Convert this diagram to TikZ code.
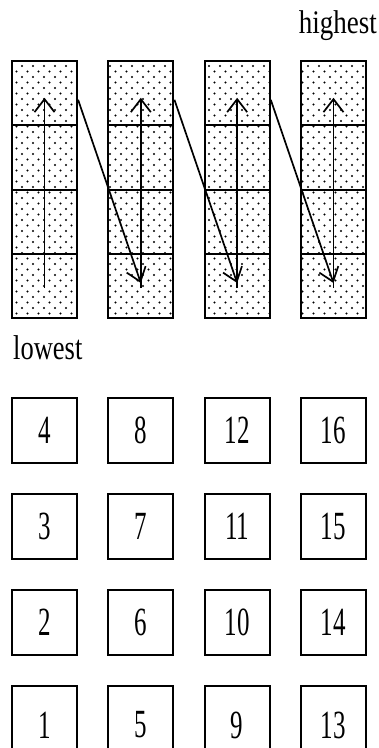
\documentclass[tikz,border=0pt]{standalone}
\usepackage{fontspec}
\setmainfont{Liberation Serif}
\usetikzlibrary{arrows.meta,patterns}

% staggered dot fill for the cells
\pgfdeclarepatternformonly{stipple}{\pgfqpoint{-1.2pt}{-1.2pt}}{\pgfqpoint{10pt}{10pt}}{\pgfqpoint{11pt}{11pt}}{%
  \pgfpathcircle{\pgfqpoint{0pt}{0pt}}{1.05pt}%
  \pgfpathcircle{\pgfqpoint{5.5pt}{5.5pt}}{1.05pt}%
  \pgfusepath{fill}}

\tikzset{
  cell/.style={draw, line width=2.2pt, pattern=stipple, minimum width=65pt,
    minimum height=64.25pt, inner sep=0pt},
  numbox/.style={draw, line width=2.2pt, minimum width=65pt,
    minimum height=65pt, inner sep=0pt, font=\fontsize{25}{28}\selectfont},
  arr/.style={line width=1.7pt, -{Straight Barb[length=13pt,width=20pt,line width=1.7pt]}}
}

\begin{document}
\begin{tikzpicture}[x=1pt, y=-1pt]

    \useasboundingbox (0,0) rectangle (379,748);
    \clip (0,0) rectangle (379,748);

    %%% Stacked columns
    \foreach \k in {1,...,4} {
        \foreach \r in {1,...,4} {
            \node (c\k\r) [cell] at ({44.5+96.33*(\k-1)}, {286-64.25*(\r-1)}) {};
        }
    }

    % Arrows up each column
    \foreach \k in {1,...,4} {
        \draw[arr] ([yshift=-2pt]c\k1.center) -- ([yshift=-4.5pt]c\k4.center);
    }

    % Arrows down to next column
    \draw[arr] ([yshift=-6.5pt]c14.east) -- ([yshift=3pt]c21.center);
    \draw[arr] ([yshift=-6.5pt]c24.east) -- ([yshift=3pt]c31.center);
    \draw[arr] ([yshift=-6.5pt]c34.east) -- ([yshift=3pt]c41.center);

    %%% Labels
    \node (hi) [anchor=base east, inner sep=0pt, font=\fontsize{27}{30}\selectfont]
        at (377,33) {\scalebox{1}[1.22]{highest}};
    \node (lo) [anchor=base west, inner sep=0pt, font=\fontsize{26.5}{30}\selectfont]
        at (13,359) {\scalebox{1}[1.3]{lowest}};

    %%% Numbered boxes
    \foreach \k in {1,...,4} {
        \foreach \r in {2,3,4} {
            \pgfmathtruncatemacro{\num}{4*(\k-1)+\r}
            \node (n\num) [numbox] at ({44.5+96.33*(\k-1)}, {718.5-96*(\r-1)})
                {\scalebox{1}[1.6]{\num}};
        }
        \pgfmathtruncatemacro{\num}{4*(\k-1)+1}
        \node (n\num) [numbox, minimum height=78pt] at ({44.5+96.33*(\k-1)}, 725)
            {\scalebox{1}[1.6]{\num}};
    }

\end{tikzpicture}
\end{document}
